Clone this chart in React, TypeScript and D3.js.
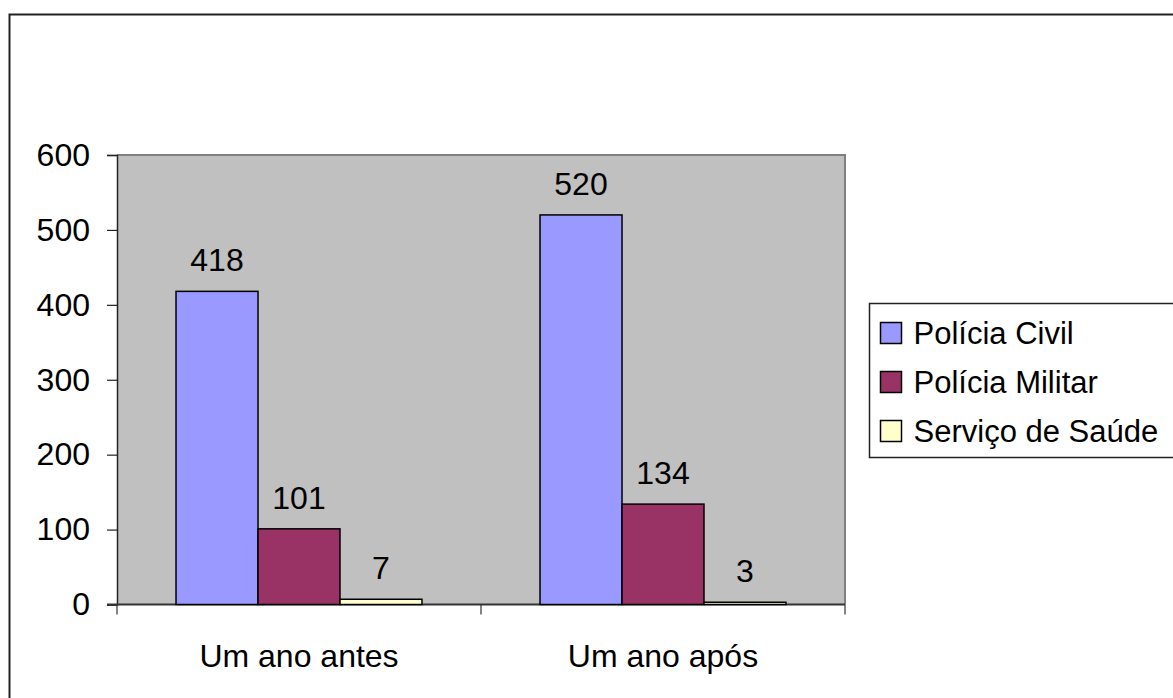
import * as d3 from 'd3';
import React, { useRef, useEffect } from 'react';

const categories = ['Um ano antes', 'Um ano após'];
const seriesNames = ['Polícia Civil', 'Polícia Militar', 'Serviço de Saúde'];
const policiaCivil = [418, 520];
const policiaMilitar = [101, 134];
const servicoSaude = [7, 3];
const yTicks = [0, 100, 200, 300, 400, 500, 600];
const colors = ['#9999FF', '#993366', '#FFFFCC'];

function App() {
    const ref = useRef<SVGSVGElement>(null);

    useEffect(() => {
        let svg = d3.select(ref.current);
        svg.selectAll('*').remove();
        draw();
    }, []);

    const draw = () => {
        const svgWidth = 1173, svgHeight = 698;
        const plot = { left: 117, top: 155, right: 845, bottom: 604.5 };
        const font = 'Liberation Sans, Arial, sans-serif';
        const fontSize = 32;
        const values = [policiaCivil, policiaMilitar, servicoSaude];

        const svg = d3.select(ref.current)
            .attr('width', svgWidth)
            .attr('height', svgHeight);

        // outer chart border (cut off at right/bottom)
        svg.append('rect')
            .attr('x', 9.5).attr('y', 14.5)
            .attr('width', 1300).attr('height', 700)
            .attr('fill', 'white')
            .attr('stroke', '#222')
            .attr('stroke-width', 2);

        const y = d3.scaleLinear().domain([0, 600]).range([plot.bottom, plot.top]);
        const x0 = d3.scaleBand().domain(categories).range([plot.left, plot.right]).padding(0);
        const x1 = d3.scaleBand().domain(seriesNames).range([0, x0.bandwidth()])
            .paddingInner(0).paddingOuter(0.72);

        // plot area
        svg.append('rect')
            .attr('x', plot.left).attr('y', plot.top)
            .attr('width', plot.right - plot.left)
            .attr('height', plot.bottom - plot.top)
            .attr('fill', '#C0C0C0');
        svg.append('path')
            .attr('d', `M${plot.left},${plot.top}H${plot.right}V${plot.bottom}`)
            .attr('fill', 'none')
            .attr('stroke', '#808080')
            .attr('stroke-width', 2);

        // y axis
        const yAxis = svg.append('g')
            .attr('transform', `translate(${plot.left},0)`)
            .call(d3.axisLeft(y).tickValues(yTicks).tickSize(10).tickPadding(17));
        yAxis.select('.domain').attr('stroke', '#222').attr('stroke-width', 1.5);
        yAxis.selectAll('line').attr('stroke', '#222').attr('stroke-width', 1.2);
        yAxis.selectAll('text')
            .attr('font-family', font)
            .attr('font-size', fontSize)
            .attr('fill', 'black');

        // x axis
        const xAxis = svg.append('g')
            .attr('transform', `translate(0,${plot.bottom})`)
            .call(d3.axisBottom(x0).tickSize(0).tickPadding(0));
        xAxis.select('.domain').remove();
        xAxis.selectAll('text').remove();
        xAxis.append('line')
            .attr('x1', plot.left - 10).attr('x2', plot.right)
            .attr('stroke', '#333').attr('stroke-width', 2);
        const bounds = [plot.left, ...categories.map(c => (x0(c) as number) + x0.bandwidth())];
        xAxis.selectAll('.cattick')
            .data(bounds)
            .enter()
            .append('line')
            .attr('x1', d => d).attr('x2', d => d)
            .attr('y1', 0).attr('y2', 10)
            .attr('stroke', '#333').attr('stroke-width', 1.2);
        svg.selectAll('.catlabel')
            .data(categories)
            .enter()
            .append('text')
            .attr('x', d => (x0(d) as number) + x0.bandwidth() / 2)
            .attr('y', 667)
            .attr('text-anchor', 'middle')
            .attr('font-family', font)
            .attr('font-size', fontSize)
            .text(d => d);

        // bars
        const groups = svg.selectAll('.grp')
            .data(categories)
            .enter()
            .append('g')
            .attr('transform', d => `translate(${x0(d)},0)`);

        groups.selectAll('rect')
            .data((d, i) => seriesNames.map((s, j) => ({ s, v: values[j][i], j })))
            .enter()
            .append('rect')
            .attr('x', d => x1(d.s) as number)
            .attr('y', d => y(d.v))
            .attr('width', x1.bandwidth())
            .attr('height', d => plot.bottom - y(d.v))
            .attr('fill', d => colors[d.j])
            .attr('stroke', 'black')
            .attr('stroke-width', 1.5);

        groups.selectAll('text')
            .data((d, i) => seriesNames.map((s, j) => ({ s, v: values[j][i], j })))
            .enter()
            .append('text')
            .attr('x', d => (x1(d.s) as number) + x1.bandwidth() / 2)
            .attr('y', d => y(d.v) - 20)
            .attr('text-anchor', 'middle')
            .attr('font-family', font)
            .attr('font-size', fontSize)
            .text(d => d.v);

        // legend
        const legend = svg.append('g').attr('transform', 'translate(869.5,303.5)');
        legend.append('rect')
            .attr('width', 400).attr('height', 154)
            .attr('fill', 'white')
            .attr('stroke', '#222')
            .attr('stroke-width', 1.5);
        const items = legend.selectAll('.item')
            .data(seriesNames)
            .enter()
            .append('g')
            .attr('transform', (d, i) => `translate(0,${29 + i * 49})`);
        items.append('rect')
            .attr('x', 11).attr('y', -10)
            .attr('width', 21).attr('height', 21)
            .attr('fill', (d, i) => colors[i])
            .attr('stroke', 'black')
            .attr('stroke-width', 1.5);
        items.append('text')
            .attr('x', 44)
            .attr('y', 11)
            .attr('font-family', font)
            .attr('font-size', 31)
            .text(d => d);
    }

    return (
        <svg ref={ref} style={{ position: 'absolute', left: 0, top: 0 }}></svg>
    );
}

export default App;
